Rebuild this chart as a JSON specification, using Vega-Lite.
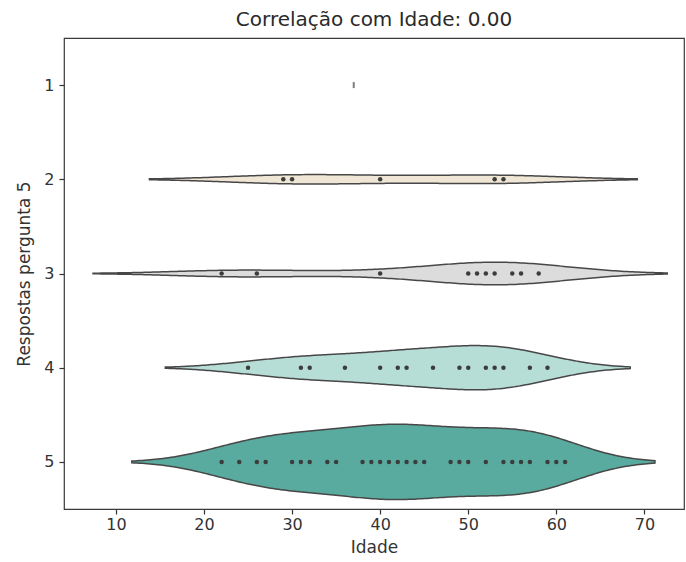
{
  "$schema": "https://vega.github.io/schema/vega-lite/v6.json",
  "autosize": "none",
  "width": 620,
  "height": 471,
  "padding": {"left": 64, "top": 38, "right": 2, "bottom": 53},
  "background": "white",
  "title": {"text": "Correlação com Idade: 0.00", "font": "DejaVu Sans", "fontSize": 20, "fontWeight": "normal", "color": "#2a2a2a", "offset": 8, "anchor": "middle"},
  "config": {
    "view": {"stroke": "#3a3a3a", "strokeWidth": 1.2},
    "axis": {"grid": false, "domain": false, "tickColor": "#333333", "tickSize": 5, "tickWidth": 1.2, "labelFont": "DejaVu Sans", "labelFontSize": 16, "labelColor": "#333333", "titleFont": "DejaVu Sans", "titleFontSize": 17, "titleFontWeight": "normal", "titleColor": "#333333"}
  },
  "datasets": {
    "d": [
      {"g": 1, "age": 37},
      {"g": 2, "age": 29}, {"g": 2, "age": 30}, {"g": 2, "age": 40}, {"g": 2, "age": 53}, {"g": 2, "age": 54},
      {"g": 3, "age": 22}, {"g": 3, "age": 26}, {"g": 3, "age": 40}, {"g": 3, "age": 50}, {"g": 3, "age": 51}, {"g": 3, "age": 52}, {"g": 3, "age": 53}, {"g": 3, "age": 55}, {"g": 3, "age": 56}, {"g": 3, "age": 58},
      {"g": 4, "age": 25}, {"g": 4, "age": 31}, {"g": 4, "age": 32}, {"g": 4, "age": 36}, {"g": 4, "age": 40}, {"g": 4, "age": 42}, {"g": 4, "age": 43}, {"g": 4, "age": 46}, {"g": 4, "age": 49}, {"g": 4, "age": 50}, {"g": 4, "age": 52}, {"g": 4, "age": 53}, {"g": 4, "age": 54}, {"g": 4, "age": 57}, {"g": 4, "age": 59},
      {"g": 5, "age": 22}, {"g": 5, "age": 24}, {"g": 5, "age": 26}, {"g": 5, "age": 27}, {"g": 5, "age": 30}, {"g": 5, "age": 31}, {"g": 5, "age": 32}, {"g": 5, "age": 34}, {"g": 5, "age": 35}, {"g": 5, "age": 38}, {"g": 5, "age": 39}, {"g": 5, "age": 40}, {"g": 5, "age": 41}, {"g": 5, "age": 42}, {"g": 5, "age": 43}, {"g": 5, "age": 44}, {"g": 5, "age": 45}, {"g": 5, "age": 48}, {"g": 5, "age": 49}, {"g": 5, "age": 50}, {"g": 5, "age": 52}, {"g": 5, "age": 54}, {"g": 5, "age": 55}, {"g": 5, "age": 56}, {"g": 5, "age": 57}, {"g": 5, "age": 59}, {"g": 5, "age": 60}, {"g": 5, "age": 61}
    ]
  },
  "layer": [
    {
      "data": {"name": "d"},
      "transform": [
        {"filter": "datum.g == 2"},
        {"density": "age", "bandwidth": 7.6, "extent": [13.8, 69.2], "steps": 200, "as": ["age", "density"]},
        {"joinaggregate": [{"op": "max", "field": "density", "as": "mx"}]},
        {"calculate": "2 - 0.05 * datum.density / datum.mx", "as": "lo"},
        {"calculate": "2 + 0.05 * datum.density / datum.mx", "as": "hi"}
      ],
      "mark": {"type": "area", "orient": "vertical", "fill": "#efe6d5", "stroke": "#474747", "strokeWidth": 1.5},
      "encoding": {
        "x": {"field": "age", "type": "quantitative", "scale": {"domain": [4.1, 74.5], "nice": false, "zero": false}, "axis": {"title": "Idade", "values": [10, 20, 30, 40, 50, 60, 70], "labelPadding": 2, "titlePadding": 7}},
        "y": {"field": "lo", "type": "quantitative", "scale": {"domain": [0.5, 5.5], "reverse": true, "nice": false, "zero": false}, "axis": {"title": "Respostas pergunta 5", "values": [1, 2, 3, 4, 5], "format": "d", "labelPadding": 5, "titlePadding": 10}},
        "y2": {"field": "hi"}
      }
    },
    {
      "data": {"name": "d"},
      "transform": [
        {"filter": "datum.g == 3"},
        {"density": "age", "bandwidth": 7.3, "extent": [7.4, 72.6], "steps": 200, "as": ["age", "density"]},
        {"joinaggregate": [{"op": "max", "field": "density", "as": "mx"}]},
        {"calculate": "3 - 0.12 * datum.density / datum.mx", "as": "lo"},
        {"calculate": "3 + 0.12 * datum.density / datum.mx", "as": "hi"}
      ],
      "mark": {"type": "area", "orient": "vertical", "fill": "#dcdcdc", "stroke": "#474747", "strokeWidth": 1.5},
      "encoding": {
        "x": {"field": "age", "type": "quantitative"},
        "y": {"field": "lo", "type": "quantitative"},
        "y2": {"field": "hi"}
      }
    },
    {
      "data": {"name": "d"},
      "transform": [
        {"filter": "datum.g == 4"},
        {"density": "age", "bandwidth": 4.9, "extent": [15.6, 68.4], "steps": 200, "as": ["age", "density"]},
        {"joinaggregate": [{"op": "max", "field": "density", "as": "mx"}]},
        {"calculate": "4 - 0.235 * datum.density / datum.mx", "as": "lo"},
        {"calculate": "4 + 0.235 * datum.density / datum.mx", "as": "hi"}
      ],
      "mark": {"type": "area", "orient": "vertical", "fill": "#b7ddd7", "stroke": "#474747", "strokeWidth": 1.5},
      "encoding": {
        "x": {"field": "age", "type": "quantitative"},
        "y": {"field": "lo", "type": "quantitative"},
        "y2": {"field": "hi"}
      }
    },
    {
      "data": {"name": "d"},
      "transform": [
        {"filter": "datum.g == 5"},
        {"density": "age", "bandwidth": 5.1, "extent": [11.8, 71.2], "steps": 200, "as": ["age", "density"]},
        {"joinaggregate": [{"op": "max", "field": "density", "as": "mx"}]},
        {"calculate": "5 - 0.4 * datum.density / datum.mx", "as": "lo"},
        {"calculate": "5 + 0.4 * datum.density / datum.mx", "as": "hi"}
      ],
      "mark": {"type": "area", "orient": "vertical", "fill": "#5aab9f", "stroke": "#474747", "strokeWidth": 1.5},
      "encoding": {
        "x": {"field": "age", "type": "quantitative"},
        "y": {"field": "lo", "type": "quantitative"},
        "y2": {"field": "hi"}
      }
    },
    {
      "data": {"name": "d"},
      "transform": [{"filter": "datum.g >= 2"}],
      "mark": {"type": "circle", "size": 20, "color": "#3c3c3c", "opacity": 1},
      "encoding": {
        "x": {"field": "age", "type": "quantitative"},
        "y": {"field": "g", "type": "quantitative"}
      }
    },
    {
      "data": {"name": "d"},
      "transform": [{"filter": "datum.g == 1"}],
      "mark": {"type": "tick", "orient": "vertical", "size": 6, "thickness": 2, "color": "#444444"},
      "encoding": {
        "x": {"field": "age", "type": "quantitative"},
        "y": {"field": "g", "type": "quantitative"}
      }
    }
  ]
}
